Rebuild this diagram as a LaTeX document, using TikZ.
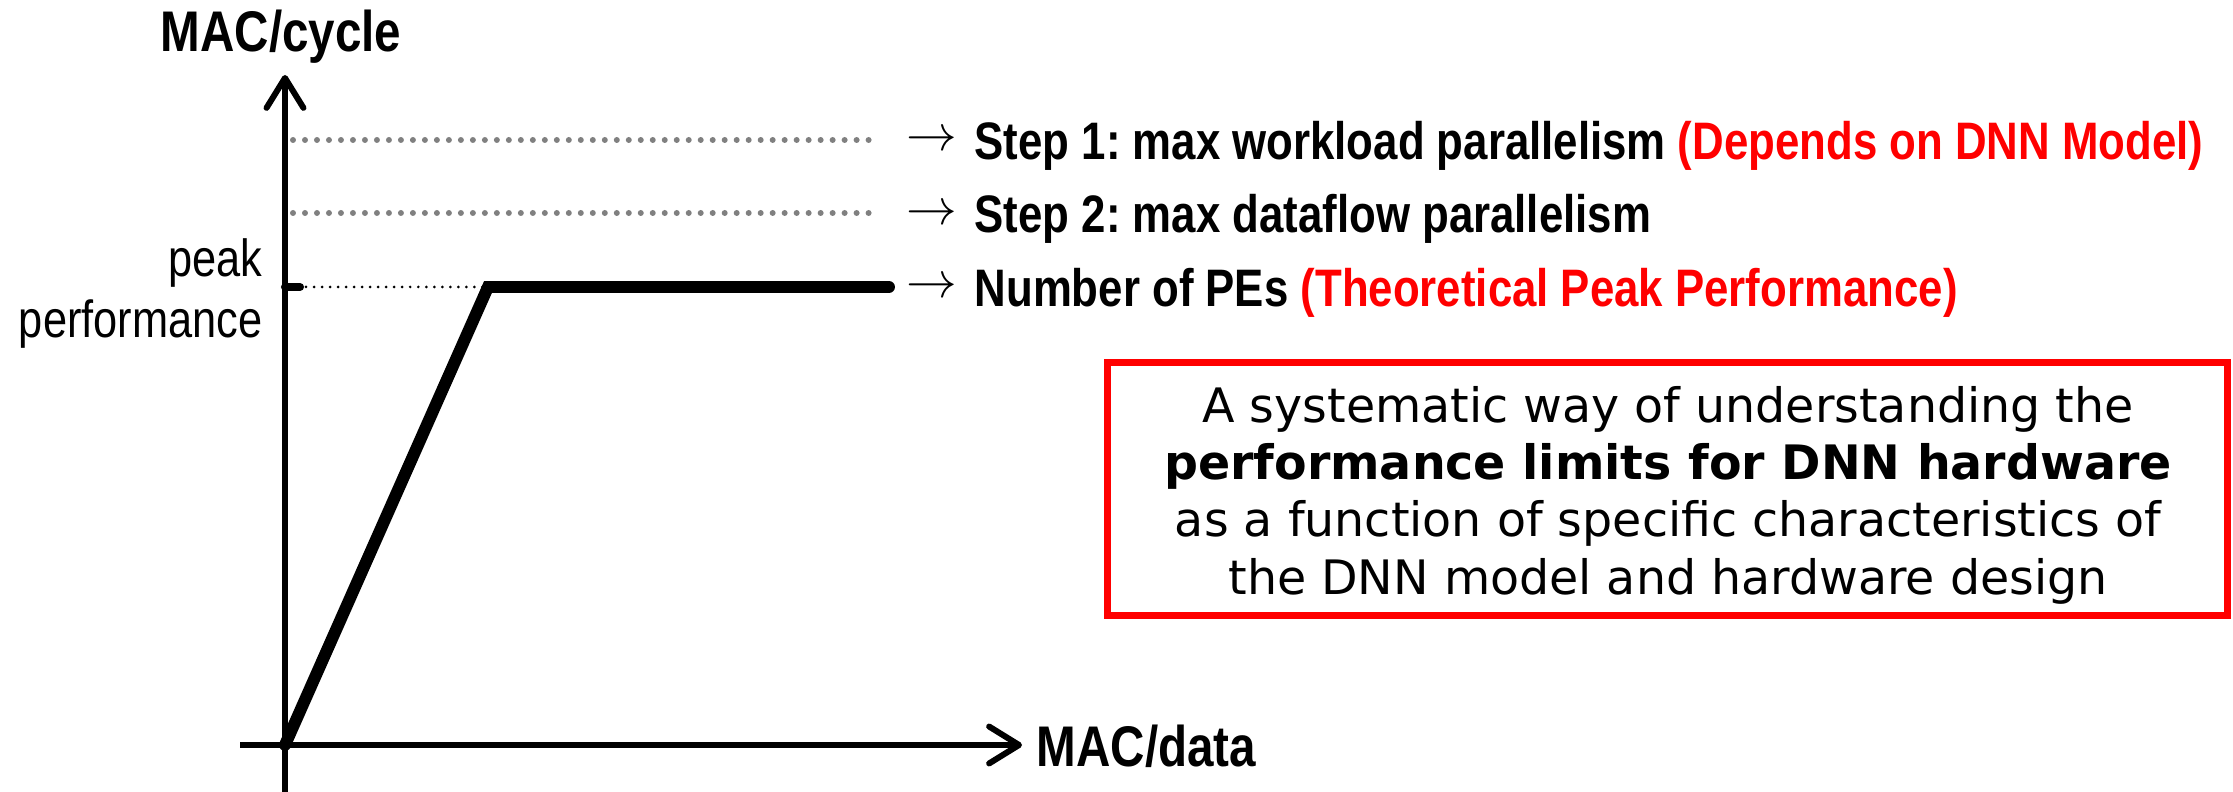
\documentclass[tikz,border=0pt]{standalone}
\usepackage{fontspec}
\usetikzlibrary{arrows.meta}
\newfontfamily\nar[FakeStretch=0.83]{Liberation Sans}
\newfontfamily\dvs{DejaVu Sans}
\definecolor{dotgray}{RGB}{128,128,128}
\definecolor{pured}{RGB}{255,0,0}
\frenchspacing
\begin{document}
\begin{tikzpicture}[x=0.01cm,y=-0.01cm,
  axis/.style={line width=1.7pt,-{Straight Barb[length=8.5pt,width=10.5pt,round]}},
  curve/.style={line width=3.4pt,line cap=round,line join=miter},
  graydots/.style={dotgray,line width=1.7pt,line cap=round,dash pattern=on 0pt off 3.41pt},
  blackdots/.style={black,line width=0.85pt,line cap=round,dash pattern=on 0pt off 2.28pt},
  rowtext/.style={anchor=base west,inner sep=0pt,font=\nar\bfseries\fontsize{15pt}{18pt}\selectfont},
  arr/.style={anchor=center,inner sep=0pt,font=\fontsize{13.5pt}{16pt}\selectfont},
  axlabel/.style={inner sep=0pt,font=\nar\bfseries\fontsize{16.3pt}{19pt}\selectfont},
  ylab/.style={anchor=base east,inner sep=0pt,font=\nar\fontsize{14.85pt}{18pt}\selectfont},
  boxtext/.style={anchor=base,inner sep=0pt,font=\dvs\fontsize{13.5pt}{16pt}\selectfont}
]
\useasboundingbox (0,0) rectangle (2233,792);
% coordinates
\coordinate (O) at (285,745);
\coordinate (ybot) at (285,792);
\coordinate (ytop) at (285,75);
\coordinate (xleft) at (240,745);
\coordinate (xright) at (1022,745);
\coordinate (knee) at (488,287);
\coordinate (pend) at (889,287);
\coordinate (tickend) at (300,287);
\coordinate (dotstart) at (306,287);
\coordinate (pk) at (285,287);
\coordinate (s1a) at (293,140);
\coordinate (s1b) at (877,140);
\coordinate (s2a) at (293,213);
\coordinate (s2b) at (877,213);
% axes
\draw[axis] (ybot) -- (ytop);
\draw[axis] (xleft) -- (xright);
% dotted guide lines
\draw[graydots] (s1a) -- (s1b);
\draw[graydots] (s2a) -- (s2b);
\draw[line width=2.3pt,line cap=round] (pk) -- (tickend);
\draw[blackdots] (dotstart) -- (knee);
% roofline
\draw[curve] (O) -- (knee) -- (pend);
% axis labels
\node[axlabel,anchor=base] (ylabel) at (281,52) {MAC/cycle};
\node[axlabel,anchor=base west] (xlabel) at (1036,767) {MAC/data};
\node[ylab] (peak1) at (263,277) {peak};
\node[ylab] (peak2) at (263,338) {performance};
% right-hand rows
\node[arr] (a1) at (932,141) {$\rightarrow$};
\node[arr] (a2) at (932,215) {$\rightarrow$};
\node[arr] (a3) at (932,288) {$\rightarrow$};
\node[rowtext] (t1) at (974,160) {Step 1: max workload parallelism \textcolor{pured}{(Depends on DNN Model)}};
\node[rowtext] (t2) at (974,233) {Step 2: max dataflow parallelism};
\node[rowtext] (t3) at (974,307) {Number of PEs \textcolor{pured}{(Theoretical Peak Performance)}};
% red box
\node[draw=pured,line width=2pt,minimum width=11.19cm,minimum height=2.52cm,inner sep=0pt] (box) at (1667.5,489) {};
\node[boxtext] (b1) at (1668,423) {A systematic way of understanding the};
\node[boxtext] (b2) at (1668,480) {\bfseries performance limits for DNN hardware};
\node[boxtext] (b3) at (1668,537) {as a function of specific characteristics of};
\node[boxtext] (b4) at (1668,595) {the DNN model and hardware design};
\end{tikzpicture}
\end{document}
